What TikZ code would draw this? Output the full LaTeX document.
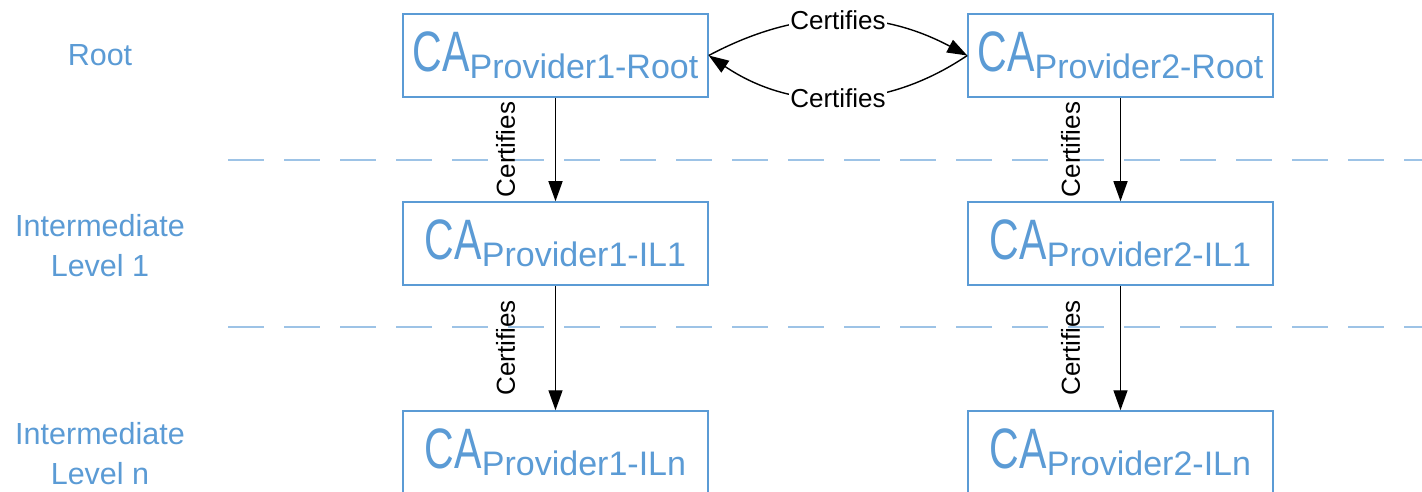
\documentclass[tikz,border=0pt]{standalone}
\usepackage{fontspec}
\setmainfont{Liberation Sans}
\usetikzlibrary{arrows.meta}
\definecolor{boxblue}{HTML}{5B9BD5}
\definecolor{dashblue}{HTML}{9DC3E6}
\newcommand{\caname}[1]{\scalebox{0.72}[1]{\fontsize{57}{57}\selectfont CA}\raisebox{-7pt}{\fontsize{34}{34}\selectfont #1}}
\begin{document}
\begin{tikzpicture}[x=1pt,y=-1pt,
  cabox/.style={draw=boxblue,line width=1.5pt,text=boxblue,minimum width=305pt,minimum height=83pt,inner sep=0pt},
  level/.style={text=boxblue,font=\fontsize{30.5}{40}\selectfont,align=center},
  conn/.style={line width=1.4pt,-{Triangle[length=20pt,width=14pt]}},
  lab/.style={font=\fontsize{26}{26}\selectfont,inner sep=1pt},
  vlab/.style={lab,midway,xshift=-50pt,rotate=90},
  dashline/.style={dashblue,line width=2pt,dash pattern=on 36pt off 20pt}]
\clip (0,0) rectangle (1422,492);
\fill[white] (0,0) rectangle (1422,492);
% dashed separators
\coordinate (d1a) at (228,160); \coordinate (d1b) at (1422,160);
\coordinate (d2a) at (228,327); \coordinate (d2b) at (1422,327);
\draw[dashline] (d1a) -- (d1b);
\draw[dashline] (d2a) -- (d2b);
% level labels
\node[level] (lroot) at (100,55) {Root};
\node[level] (lil1) at (100,246) {Intermediate\\Level 1};
\node[level] (liln) at (100,454) {Intermediate\\Level n};
% boxes
\node[cabox] (r1) at (555.5,55.5) {\caname{Provider1-Root}};
\node[cabox] (r2) at (1120.5,55.5) {\caname{Provider2-Root}};
\node[cabox] (a1) at (555.5,243.5) {\caname{Provider1-IL1}};
\node[cabox] (b1) at (1120.5,243.5) {\caname{Provider2-IL1}};
\node[cabox] (an) at (555.5,452.5) {\caname{Provider1-ILn}};
\node[cabox] (bn) at (1120.5,452.5) {\caname{Provider2-ILn}};
% vertical arrows
\draw[conn] (r1) -- (a1) node[vlab] {Certifies};
\draw[conn] (r2) -- (b1) node[vlab] {Certifies};
\draw[conn] (a1) -- (an) node[vlab] {Certifies};
\draw[conn] (b1) -- (bn) node[vlab] {Certifies};
% curved arrows
\draw[conn] (r1.east) to[bend left=28] node[lab,fill=white,midway] {Certifies} (r2.west);
\draw[conn] (r2.west) to[bend left=34] node[lab,fill=white,midway] {Certifies} (r1.east);
\end{tikzpicture}
\end{document}
